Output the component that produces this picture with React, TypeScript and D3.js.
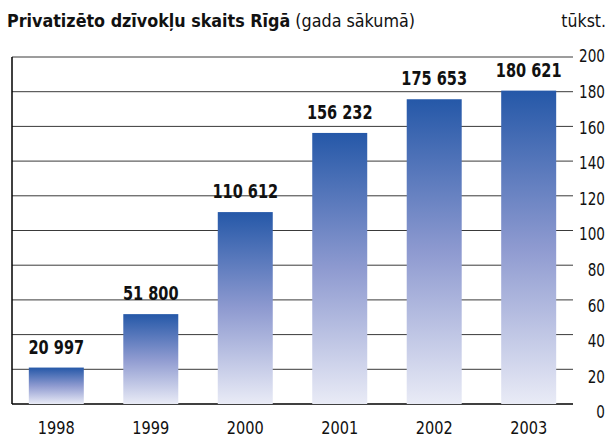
import React from 'react';
import { scaleBand, scaleLinear } from 'd3';

const years = ['1998', '1999', '2000', '2001', '2002', '2003'];
const flats = [20.997, 51.8, 110.612, 156.232, 175.653, 180.621]; // thousands
const valueLabels = ['20 997', '51 800', '110 612', '156 232', '175 653', '180 621'];
const ticks = [0, 20, 40, 60, 80, 100, 120, 140, 160, 180, 200];

const W = 609;
const H = 437;
const FONT = '"DejaVu Sans Condensed", "Liberation Sans Narrow", sans-serif';

// condensed-looking text: squeeze horizontally around the anchor point
function Narrow({ x, y, sx = 0.87, children, ...rest }: any) {
  return (
    <text transform={`translate(${x},${y}) scale(${sx},1)`} {...rest}>{children}</text>
  );
}

export default function App() {
  const left = 12, right = 573, top = 57, bottom = 404;

  const x = scaleBand<string>()
    .domain(years)
    .range([left, right])
    .paddingInner(0.418)
    .paddingOuter(0.178);

  const y = scaleLinear().domain([0, 200]).range([bottom, top]);
  // tick labels sit on a slightly wider spacing than the tick lines
  const yLabel = scaleLinear().domain([0, 200]).range([412, 56]);

  return (
    <svg width={W} height={H} style={{ position: 'absolute', left: 0, top: 0, fontFamily: FONT }}>
      <defs>
        <linearGradient id="barGrad" x1="0" y1="0" x2="0" y2="1">
          <stop offset="0%" stopColor="#2558a8" />
          <stop offset="50%" stopColor="#8e9ad0" />
          <stop offset="100%" stopColor="#e9ebf6" />
        </linearGradient>
      </defs>

      <Narrow x={7} y={27} sx={0.96} fontSize={18.5} fill="#111">
        <tspan fontWeight="bold">Privatizēto dzīvokļu skaits Rīgā</tspan>
        <tspan> (gada sākumā)</tspan>
      </Narrow>
      <Narrow x={606} y={27} sx={1} fontSize={17.5} textAnchor="end" fill="#111">tūkst.</Narrow>

      {/* grid lines / ticks */}
      {ticks.map(t => (
        <line key={t} x1={left} x2={right} y1={y(t)} y2={y(t)}
          stroke={t === 0 ? '#000' : '#3a3a3a'} strokeWidth={t === 0 ? 1.5 : 1} />
      ))}
      <line x1={left} x2={left} y1={top} y2={bottom} stroke="#000" strokeWidth={1.5} />

      {/* bars */}
      {flats.map((v, i) => (
        <rect key={years[i]} x={x(years[i])} y={y(v)} width={x.bandwidth()}
          height={bottom - y(v)} fill="url(#barGrad)" />
      ))}

      {/* value labels */}
      {flats.map((v, i) => (
        <Narrow key={'v' + i} x={(x(years[i]) ?? 0) + x.bandwidth() / 2} y={y(v) - 14}
          sx={0.85} textAnchor="middle" fontSize={19} fontWeight="bold" fill="#111">
          {valueLabels[i]}
        </Narrow>
      ))}

      {/* year labels */}
      {years.map(yr => (
        <Narrow key={yr} x={(x(yr) ?? 0) + x.bandwidth() / 2} y={434} sx={0.95}
          textAnchor="middle" fontSize={17} fill="#111">{yr}</Narrow>
      ))}

      {/* right axis labels */}
      {ticks.map(t => (
        <Narrow key={'t' + t} x={605} y={yLabel(t)} sx={0.84} dy="0.35em" textAnchor="end"
          fontSize={18} fill="#111">{t}</Narrow>
      ))}
    </svg>
  );
}
